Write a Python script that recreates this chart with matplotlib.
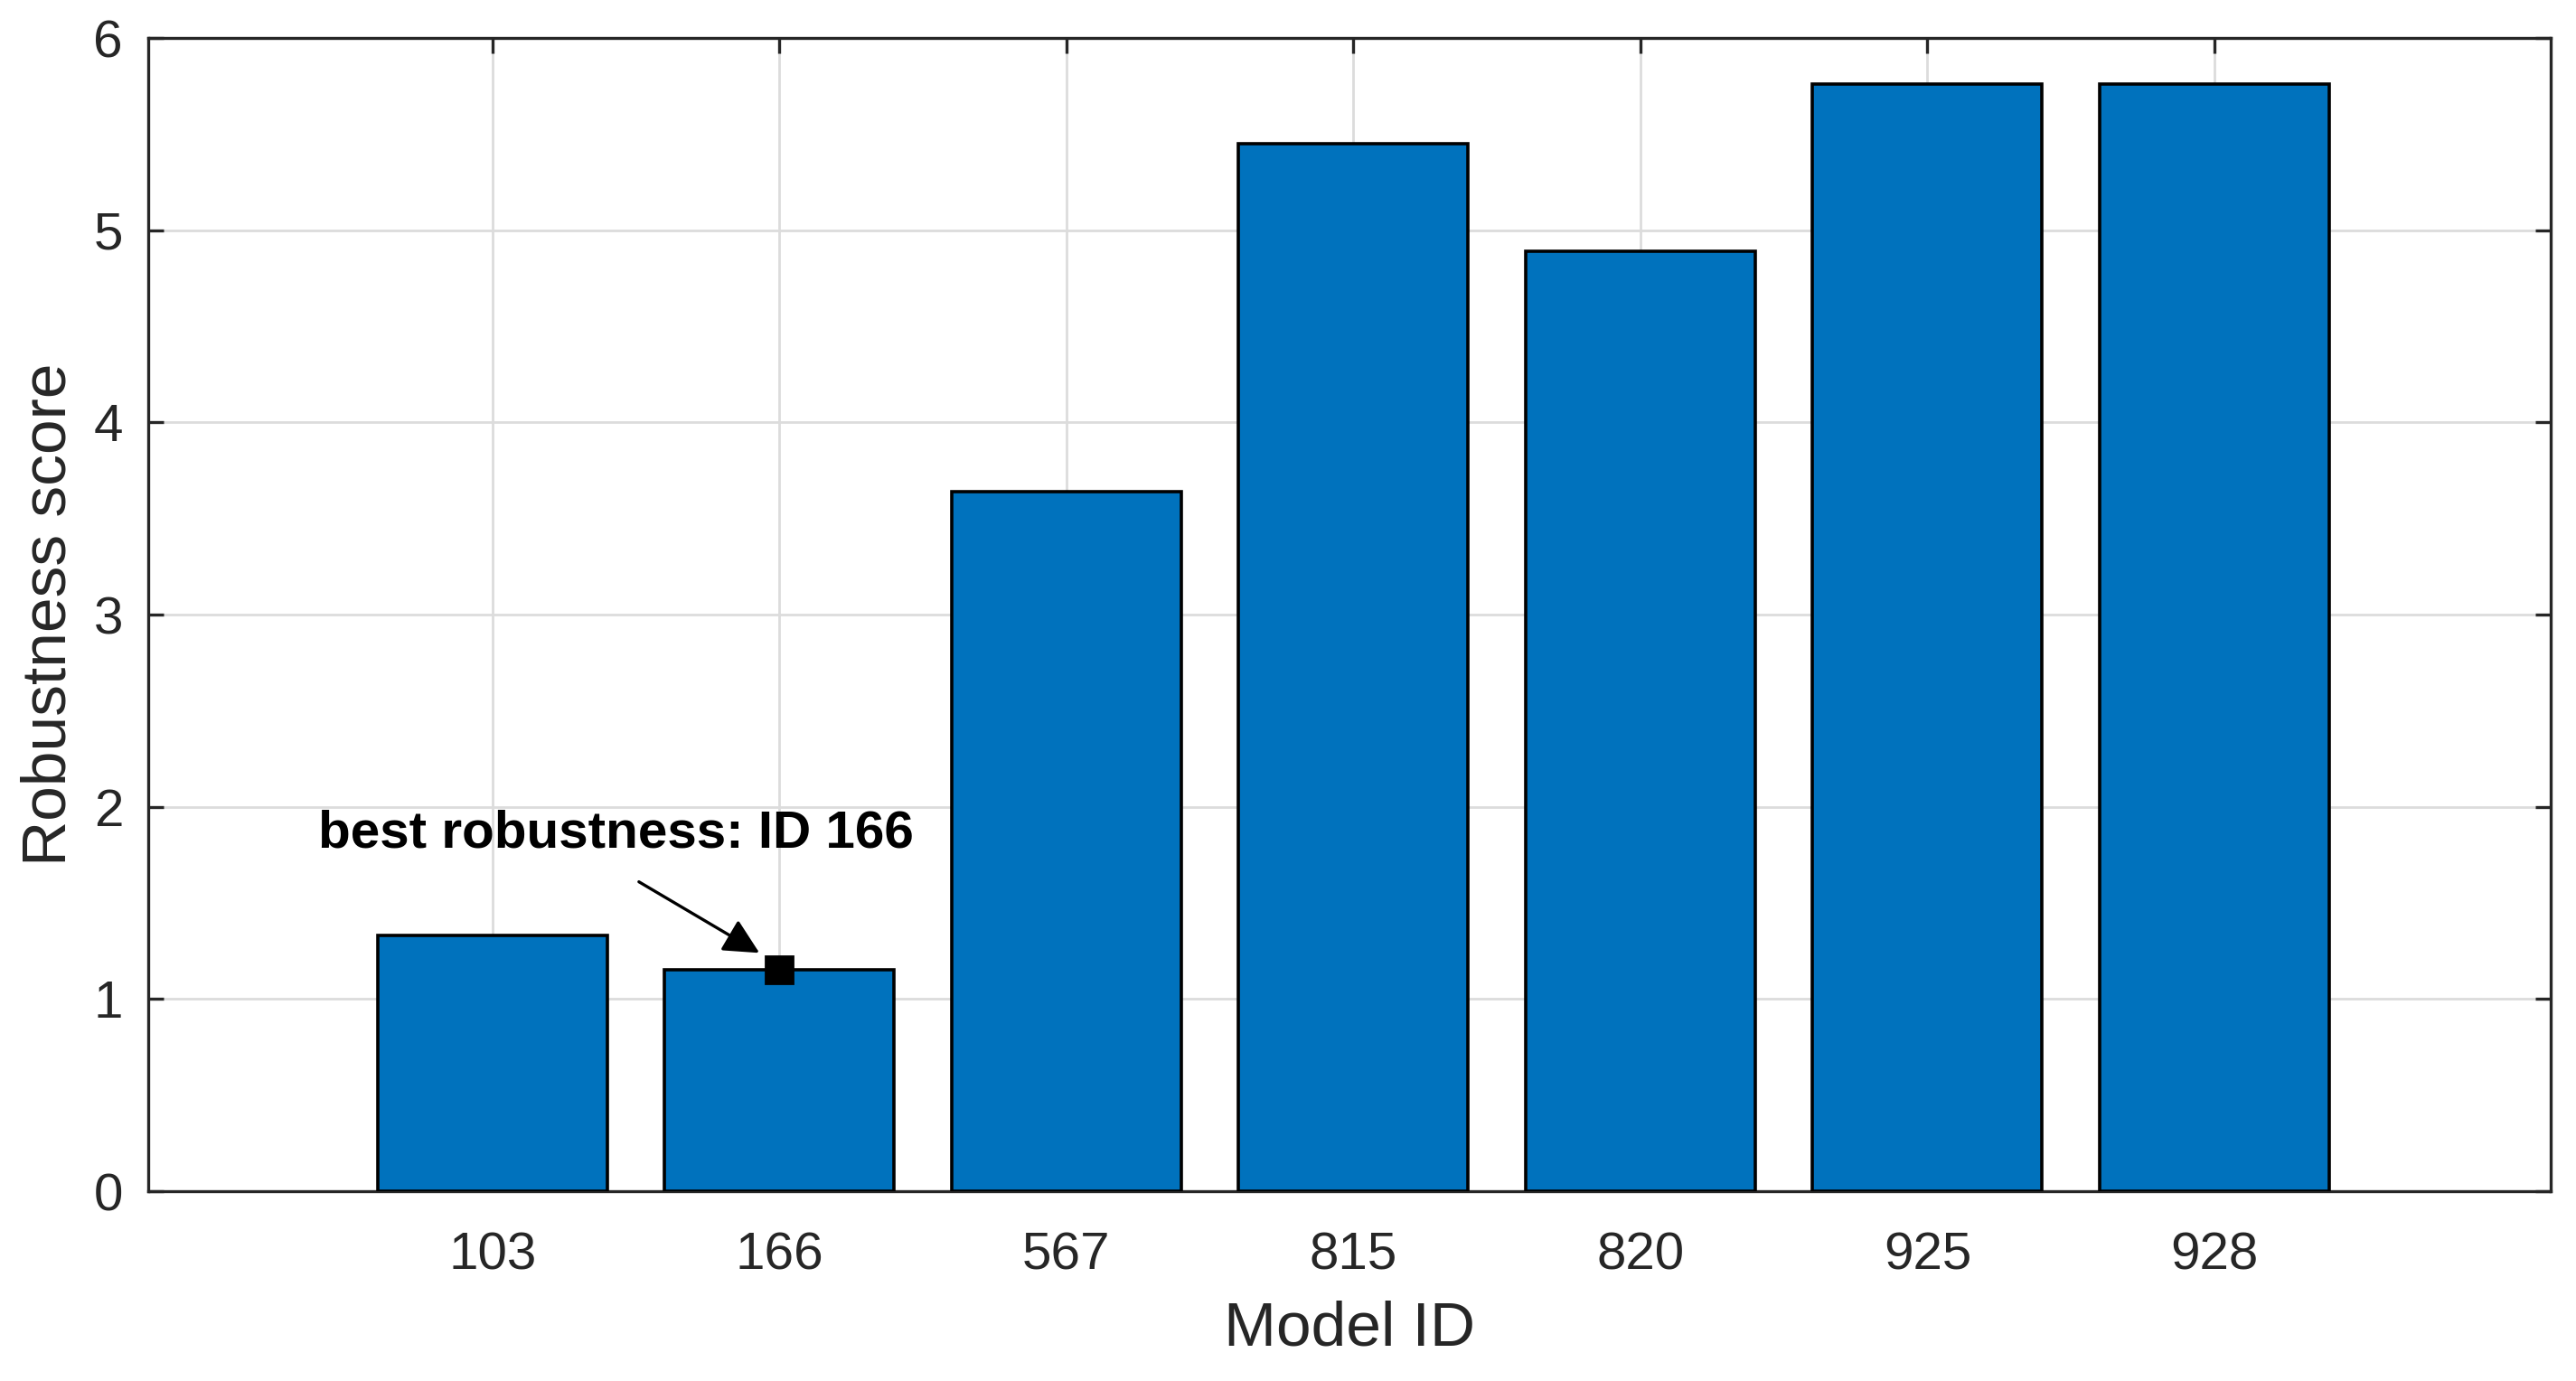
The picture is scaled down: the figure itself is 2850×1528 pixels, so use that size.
import numpy as np
import matplotlib
matplotlib.use('Agg')
import matplotlib.pyplot as plt

# データ
model_ids = ['103', '166', '567', '815', '820', '925', '928']
scores = [1.33, 1.15, 3.64, 5.45, 4.89, 5.76, 5.76]
best_id = '166'
yticks = [0, 1, 2, 3, 4, 5, 6]

plt.rcParams['font.family'] = ['Liberation Sans', 'DejaVu Sans']
fig = plt.figure(figsize=(14.25, 7.64), dpi=200)
ax = fig.add_axes([0.0575, 0.1374, 0.9325, 0.8351])

x = np.arange(len(model_ids))
ax.bar(x, scores, width=0.8, color='#0072BD', edgecolor='black', linewidth=1.3, zorder=3)

# best model marker
bi = model_ids.index(best_id)
ax.plot(bi, scores[bi], 's', color='black', markersize=11, zorder=5)
ax.text(0.43, 1.86, 'best robustness: ID ' + best_id, ha='center', va='center',
        fontsize=21, fontweight='bold', zorder=6)
ax.annotate('', xy=(bi - 0.07, scores[bi] + 0.09), xytext=(bi - 0.49, 1.61),
            arrowprops=dict(arrowstyle='-|>', color='black', lw=1.2, mutation_scale=30,
                            shrinkA=0, shrinkB=0), zorder=6)

ax.set_xlim(-1.2, 7.17)
ax.set_ylim(0, 6)
ax.set_xticks(x)
ax.set_xticklabels(model_ids)
ax.set_yticks(yticks)
ax.tick_params(axis='both', direction='in', length=6, width=1.2, colors='#262626',
               labelsize=21, top=True, right=True, pad=10)
ax.tick_params(axis='x', pad=16)
for s in ax.spines.values():
    s.set_color('#262626')
    s.set_linewidth(1.2)
ax.grid(True, color='#dcdcdc', linewidth=1.0, zorder=0)
ax.set_axisbelow(True)
ax.set_xlabel('Model ID', fontsize=25, color='#262626', labelpad=8)
ax.set_ylabel('Robustness score', fontsize=25, color='#262626', labelpad=6)

fig.savefig('out.png', dpi=200, facecolor='white')
